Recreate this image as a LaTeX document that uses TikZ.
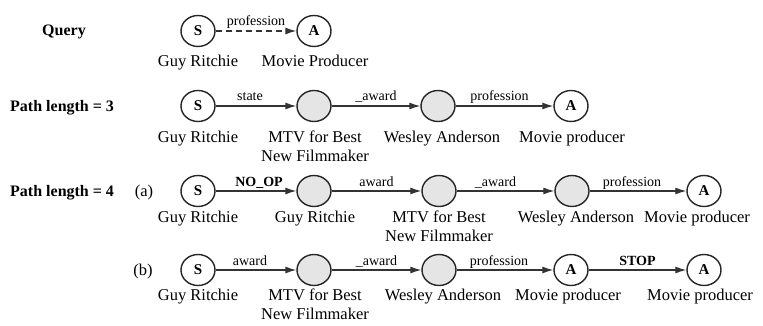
\documentclass[tikz,border=0pt]{standalone}
\usepackage{fontspec}
\setmainfont{Liberation Serif}
\usetikzlibrary{arrows.meta,shapes.geometric}
\begin{document}
\begin{tikzpicture}[x=1pt,y=-1pt,
 ent/.style={ellipse,draw=black!85,line width=1.4pt,minimum width=34pt,minimum height=31pt,inner sep=0pt,font=\fontsize{15}{18}\selectfont\bfseries},
 mid/.style={ent,fill=black!10},
 lab/.style={anchor=north,inner sep=0pt,align=center,font=\fontsize{16.5}{19}\selectfont},
 rel/.style={draw=black!80,line width=1.1pt,-{Latex[length=11pt,width=7pt]}},
 rl/.style={midway,anchor=base,yshift=5pt,inner sep=0pt,font=\fontsize{14}{16}\selectfont},
 rlb/.style={rl,font=\fontsize{14}{16}\selectfont\bfseries},
 head/.style={anchor=base west,inner sep=0pt,font=\fontsize{16}{19}\selectfont\bfseries},
 tag/.style={anchor=base,inner sep=0pt,font=\fontsize{16.5}{19}\selectfont}]
\useasboundingbox (0,0) rectangle (763,326);

% Row 1: query
\node[head] (q) at (42,36) {Query};
\node[ent] (s0) at (198,31) {S};
\node[ent] (a0) at (314,31) {A};
\draw[rel,dash pattern=on 6pt off 4pt] (s0) -- node[rl]{profession} (a0);
\node[lab] (l0s) at (198,55) {Guy Ritchie};
\node[lab] (l0a) at (315,55) {Movie Producer};

% Row 2: path length 3
\node[head] (p3) at (10,112) {Path length = 3};
\node[ent] (s1) at (198,106) {S};
\node[mid] (m1a) at (314,106) {};
\node[mid] (m1b) at (438,106) {};
\node[ent] (a1) at (571,106) {A};
\draw[rel] (s1) -- node[rl,xshift=-6pt]{state} (m1a);
\draw[rel] (m1a) -- node[rl]{\_award} (m1b);
\draw[rel] (m1b) -- node[rl,xshift=-5pt]{profession} (a1);
\node[lab] (l1s) at (198,131) {Guy Ritchie};
\node[lab] (l1a) at (315,131) {MTV for Best\\New Filmmaker};
\node[lab] (l1b) at (442,131) {Wesley Anderson};
\node[lab] (l1c) at (572,131) {Movie producer};

% Row 3: path length 4 (a)
\node[head] (p4) at (10,196) {Path length = 4};
\node[tag] (ta) at (144,196) {(a)};
\node[ent] (s2) at (198,191) {S};
\node[mid] (m2a) at (314,191) {};
\node[mid] (m2b) at (439,191) {};
\node[mid] (m2c) at (572,191) {};
\node[ent] (a2) at (704,191) {A};
\draw[rel] (s2) -- node[rlb,xshift=3pt]{NO\_OP} (m2a);
\draw[rel] (m2a) -- node[rl]{award} (m2b);
\draw[rel] (m2b) -- node[rl,xshift=-10pt]{\_award} (m2c);
\draw[rel] (m2c) -- node[rl,xshift=-6pt]{profession} (a2);
\node[lab] (l2s) at (198,211) {Guy Ritchie};
\node[lab] (l2a) at (315,211) {Guy Ritchie};
\node[lab] (l2b) at (439,211) {MTV for Best\\New Filmmaker};
\node[lab] (l2c) at (576,211) {Wesley Anderson};
\node[lab] (l2d) at (697,211) {Movie producer};

% Row 4: path length 4 (b)
\node[tag] (tb) at (143,275) {(b)};
\node[ent] (s3) at (198,270) {S};
\node[mid] (m3a) at (314,270) {};
\node[mid] (m3b) at (439,270) {};
\node[ent] (a3a) at (571,270) {A};
\node[ent] (a3b) at (704,270) {A};
\draw[rel] (s3) -- node[rl,xshift=-6pt]{award} (m3a);
\draw[rel] (m3a) -- node[rl]{\_award} (m3b);
\draw[rel] (m3b) -- node[rl,xshift=-6pt]{profession} (a3a);
\draw[rel] (a3a) -- node[rlb]{STOP} (a3b);
\node[lab] (l3s) at (198,289) {Guy Ritchie};
\node[lab] (l3a) at (315,289) {MTV for Best\\New Filmmaker};
\node[lab] (l3b) at (443,289) {Wesley Anderson};
\node[lab] (l3c) at (568,289) {Movie producer};
\node[lab] (l3d) at (700,289) {Movie producer};
\end{tikzpicture}
\end{document}
